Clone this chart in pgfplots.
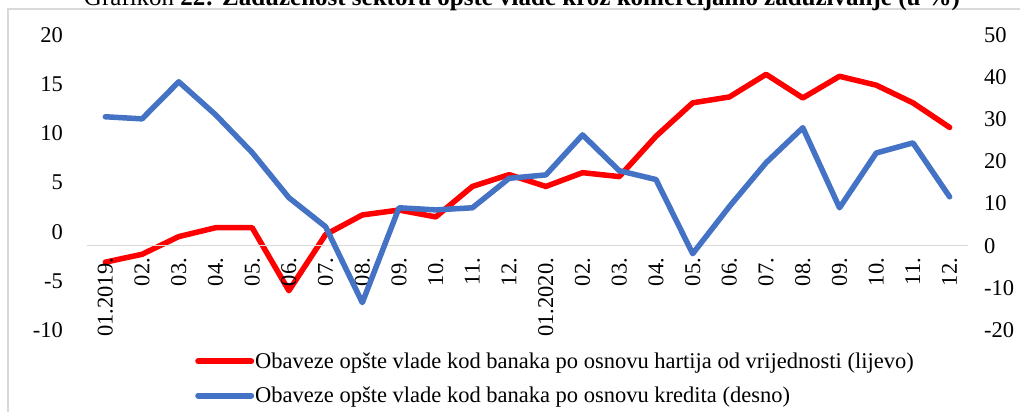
\documentclass[border=0pt]{standalone}
\usepackage{fontspec}
\setmainfont{Liberation Serif}
\usepackage{pgfplots}
\pgfplotsset{compat=1.18}
\definecolor{cred}{RGB}{255,0,0}
\definecolor{cblue}{RGB}{68,114,196}
\definecolor{frame}{RGB}{217,217,217}
\begin{document}
\begin{tikzpicture}
\useasboundingbox (0,0) rectangle (1020bp,412bp);
\draw[frame, line width=1.5bp] (8bp,-2bp) -- (8bp,403bp) -- (1022bp,403bp);
\node[anchor=base, font=\fontsize{25bp}{30bp}\selectfont, inner sep=0pt] at (522bp,406bp) {Grafikon \textbf{22: Zaduženost sektora opšte vlade kroz komercijalno zaduživanje (u \%)}};
% left axis (red)
\begin{axis}[
  at={(87bp,82bp)}, anchor=south west,
  width=881bp, height=295bp, scale only axis,
  xmin=-0.5, xmax=23.5,
  ymin=-10, ymax=20,
  hide x axis,
  axis y line*=left,
  y axis line style={draw=none},
  tick style={draw=none},
  ytick={-10,-5,0,5,10,15,20},
  yticklabels={-10,-5,0,5,10,15,20},
  yticklabel style={anchor=east, inner sep=0pt, xshift=-24bp},
  font=\fontsize{22.5bp}{27bp}\selectfont,
  clip=false,
]
\addplot[cred, line width=5.5bp, line join=round, line cap=round] coordinates {
(0,-3.1) (1,-2.3) (2,-0.5) (3,0.4) (4,0.4) (5,-6.0) (6,-0.3) (7,1.7) (8,2.2) (9,1.5) (10,4.6) (11,5.8)
(12,4.6) (13,6.0) (14,5.6) (15,9.7) (16,13.1) (17,13.7) (18,16.0) (19,13.6) (20,15.8) (21,14.9) (22,13.1) (23,10.6)
};
\end{axis}
% right axis (blue) with x axis at zero
\begin{axis}[
  at={(87bp,82bp)}, anchor=south west,
  width=881bp, height=295bp, scale only axis,
  xmin=-0.5, xmax=23.5,
  ymin=-20, ymax=50,
  axis x line*=middle,
  axis y line*=right,
  x axis line style={-, draw=frame, line width=1.2bp},
  y axis line style={draw=none},
  tick style={draw=none},
  xtick={0,...,23},
  xticklabels={01.2019.,02.,03.,04.,05.,06.,07.,08.,09.,10.,11.,12.,01.2020.,02.,03.,04.,05.,06.,07.,08.,09.,10.,11.,12.},
  xticklabel style={yshift=-12bp, rotate=90, anchor=east, inner sep=0pt},
  ytick={-20,-10,0,10,20,30,40,50},
  yticklabels={-20,-10,0,10,20,30,40,50},
  yticklabel style={anchor=west, inner sep=0pt, xshift=16bp},
  font=\fontsize{22.5bp}{27bp}\selectfont,
  clip=false,
  legend style={at={(0.1226,-0.07)}, anchor=north west, draw=none, fill=none,
    legend cell align=left, row sep=13bp, inner sep=0pt,
    nodes={inner xsep=1bp, inner ysep=2bp},
    font=\fontsize{22.5bp}{27bp}\selectfont},
  legend image code/.code={\draw[#1, line width=6bp, line cap=round] (0bp,0bp) -- (53bp,0bp);},
]
\addplot[cblue, line width=5.5bp, line join=round, line cap=round, forget plot] coordinates {
(0,30.6) (1,30.1) (2,38.9) (3,31.1) (4,22.1) (5,11.4) (6,4.5) (7,-13.5) (8,9.0) (9,8.5) (10,9.0) (11,16.0)
(12,16.8) (13,26.3) (14,17.8) (15,15.7) (16,-1.9) (17,9.3) (18,19.7) (19,28.0) (20,9.0) (21,22.0) (22,24.4) (23,11.6)
};
\addlegendimage{cred}
\addlegendentry{Obaveze opšte vlade kod banaka po osnovu hartija od vrijednosti (lijevo)}
\addlegendimage{cblue}
\addlegendentry{Obaveze opšte vlade kod banaka po osnovu kredita (desno)}
\end{axis}
\end{tikzpicture}
\end{document}
